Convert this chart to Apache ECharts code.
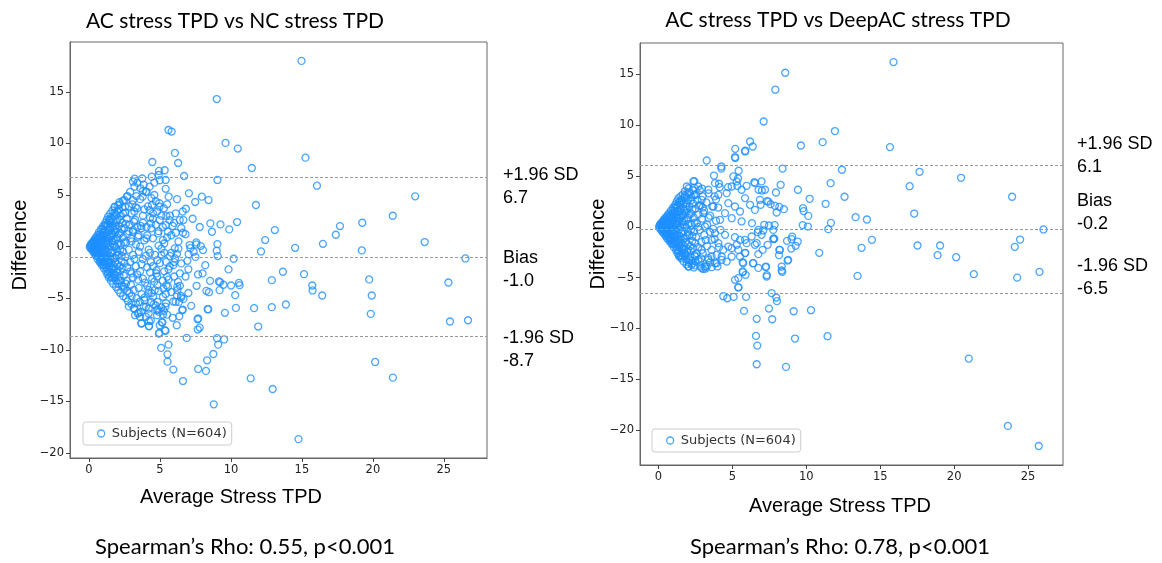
<!DOCTYPE html>
<html>
<head>
<meta charset="UTF-8">
<title>Bland-Altman stress TPD</title>
<script type="text/javascript" src="https://cdn.jsdelivr.net/npm/echarts@6/dist/echarts.min.js"></script>
<style>
html, body { margin: 0; padding: 0; background: #fff; }
</style>
</head>
<body>
	<div id="box" style="width: 1162px; height: 563px;"></div>

	<script type="text/javascript">
		// titles and captions
		var plotTitles = ['AC stress TPD vs NC stress TPD', 'AC stress TPD vs DeepAC stress TPD'];
		var rhoTexts = ['Spearman\u2019s Rho: 0.55, p<0.001', 'Spearman\u2019s Rho: 0.78, p<0.001'];
		var seriesName = 'Subjects (N=604)';

		// tick labels
		var xTicks = [0, 5, 10, 15, 20, 25];
		var yTicks = [-20, -15, -10, -5, 0, 5, 10, 15];

		// bias and limits of agreement: +1.96 SD, Bias, -1.96 SD
		var limitNames = ['+1.96 SD', 'Bias', '-1.96 SD'];
		var ncLimits = [6.7, -1.0, -8.7];
		var deepLimits = [6.1, -0.2, -6.5];

		// AC vs NC: [average, difference], dense wedge near zero
		var ncCore = [
			[0.05,0.0],[0.1,0.1],[0.1,-0.15],[0.15,0.25],[0.2,-0.3],[0.2,0.05],[0.25,0.4],[0.3,-0.5],[0.3,0.2],[0.3,-0.1],
			[0.35,0.6],[0.4,-0.7],[0.4,0.3],[0.45,-0.3],[0.45,0.85],[0.5,-0.9],[0.5,0.1],[0.55,0.5],[0.55,-0.55],[0.6,1.1],[0.6,-1.2],[0.6,-0.1],
			[0.65,0.7],[0.7,-0.8],[0.7,1.4],[0.7,0.2],[0.75,-1.5],[0.75,-0.3],[0.8,1.0],[0.8,-1.1],[0.85,1.7],[0.85,0.4],[0.9,-1.8],[0.9,-0.5],[0.9,0.0],
			[0.95,1.3],[1.0,-1.4],[1.0,2.0],[1.0,0.6],[1.05,-2.1],[1.05,-0.7],[1.1,1.6],[1.1,-0.2],[1.15,2.3],[1.15,-1.0],[1.2,0.9],[1.2,-2.4],[1.2,-1.7],[1.2,0.2],
			[1.25,2.6],[1.25,1.9],[1.3,-2.7],[1.3,-0.5],[1.3,1.2],[1.35,-1.3],[1.35,2.9],[1.4,0.5],[1.4,-2.0],[1.4,-3.0],[1.45,1.6],[1.45,-0.9],[1.5,3.2],[1.5,2.3],[1.5,-2.5],[1.5,0.0],
			[1.55,-3.3],[1.55,1.0],[1.6,-1.6],[1.6,2.7],[1.65,3.5],[1.65,-0.4],[1.7,-3.6],[1.7,1.9],[1.7,-2.2],[1.75,0.6],[1.75,3.0],[1.8,-1.1],[1.8,-3.0],[1.8,3.8],
			[1.85,1.4],[1.9,-3.9],[1.9,2.4],[1.9,-0.1],[1.95,-2.5],[2.0,3.4],[2.0,0.9],[2.0,-1.7],[2.05,4.0],[2.05,-4.2],[2.1,-0.8],[2.1,2.0],[2.1,-3.3],
			[2.15,4.3],[2.2,1.3],[2.2,-2.4],[2.2,-4.5],[2.25,3.0],[2.25,0.2],[2.3,-1.4],[2.3,-3.8],[2.35,3.8],[2.35,2.3],[2.4,-0.5],[2.4,-4.8],[2.4,0.9],
			[2.45,-2.8],[2.5,4.5],[2.5,1.8],[2.5,-4.1],[2.55,-1.0],[2.55,3.3],[2.6,-5.0],[2.6,0.4],[2.65,-3.3],[2.65,2.7],[2.7,4.9],[2.7,-2.0],[2.7,1.2],
			[2.75,-5.3],[2.8,3.9],[2.8,-0.3],[2.85,-4.5],[2.85,2.1],[2.9,-1.5],[2.9,5.3],[2.95,0.8],[2.95,-3.7],[3.0,3.2],[3.0,-5.6],[3.0,-2.6],
			[3.1,4.5],[3.1,1.6],[3.1,-0.8],[3.15,-4.2],[3.2,5.8],[3.2,-6.0],[3.25,2.6],[3.3,-1.9],[3.3,0.2],[3.35,-5.0],[3.4,3.7],[3.4,6.2],[3.45,-3.2],[3.5,1.1],[3.5,-6.4],[3.5,-0.5],
			[3.6,4.6],[3.6,-2.4],[3.65,2.0],[3.7,-4.6],[3.75,6.6],[3.8,-1.2],[3.8,3.0],[3.85,-5.8],[3.9,0.6],[3.95,-3.5],[4.0,5.3],[4.0,-6.8],[4.05,1.9],[4.1,-2.0],[4.15,3.9],[4.2,-0.3],[4.2,-4.2],
			[4.3,2.8],[4.35,-1.5],[4.4,4.7],[4.45,-3.1],[4.5,0.8],[4.55,-5.6],[4.6,6.2],[4.65,-0.8],[4.7,2.1],[4.75,-2.3],[4.8,3.4],[4.85,-6.1],[4.9,0.1],[4.95,4.2],
			[5.1,-0.2],[5.2,1.9],[5.3,-2.4],[5.4,5.6],[5.5,0.9],[5.6,-3.2],[5.7,3.0],[5.8,-0.6],[5.9,2.0],[6.0,-1.5],[6.2,4.6],[6.3,0.5],[6.4,-2.6],[6.6,3.4],[6.8,1.2],[7.0,-2.2],[7.3,2.7],[7.5,-1.0],[7.8,1.9],[8.0,-2.6],
			[0.2,0.15],[0.25,-0.2],[0.35,0.0],[0.4,0.5],[0.45,-0.5],[0.5,0.35],[0.55,-0.25],[0.65,-0.6],[0.65,0.45],[0.75,0.9],[0.8,-0.2],[0.85,-1.3],[0.95,0.3],[1.0,-0.3],[1.05,1.1],
			[1.1,-1.5],[1.15,0.4],[1.25,-0.8],[1.3,2.2],[1.35,0.8],[1.4,-1.6],[1.45,2.6],[1.5,-1.2],[1.6,1.3],[1.6,-2.7],[1.7,0.2],[1.75,-1.9],[1.85,-2.8],[1.9,3.1],[2.0,-0.5],
			[0.3,0.45],[0.35,-0.4],[0.4,-0.2],[0.45,0.2],[0.5,-0.6],[0.5,0.7],[0.55,0.9],[0.6,0.3],[0.6,-0.8],[0.65,-1.0],[0.7,0.9],[0.7,-0.4],[0.75,1.2],[0.75,0.1],[0.8,-1.4],
			[0.8,0.5],[0.85,-0.8],[0.85,1.1],[0.9,0.8],[0.9,-1.1],[0.95,-1.7],[0.95,1.7],[1.0,1.0],[1.0,-0.9],[1.05,0.2],[1.05,-1.8],[1.1,2.0],[1.1,-1.2],[1.15,-0.5],[1.15,1.5],
			[1.2,-2.0],[1.2,2.1],[1.25,0.6],[1.25,-1.4],[1.3,-2.2],[1.3,0.3],[1.35,1.6],[1.35,-2.5],[1.4,2.5],[1.4,-0.3],[1.45,-1.9],[1.45,0.9],[1.5,1.8],[1.5,-2.9],[1.55,2.8],
			[1.55,-0.6],[1.6,0.5],[1.6,-2.1],[1.65,1.1],[1.65,-3.0],[1.7,2.4],[1.7,-1.2],[1.75,-2.6],[1.75,1.6],[1.8,0.0],[1.8,3.3],[1.85,-1.5],[1.85,2.0],[1.9,0.7],[1.9,-3.3],
			[1.95,1.7],[1.95,-0.9],[2.0,2.6],[2.0,-2.2],[2.05,-3.6],[2.05,0.3],[2.1,3.6],[2.1,1.2],[2.15,-1.9],[2.15,-2.9],[2.2,2.6],[2.2,-0.3],[2.25,-3.3],[2.3,1.7],[2.3,-0.9],
			[2.35,-2.1],[2.4,3.2],[2.45,0.4],[2.45,-3.9],[2.5,-1.6]
		];

		// AC vs NC: spread and outliers
		var ncSpread = [
			[14.97,18.0],[9.0,14.3],[5.6,11.3],[5.82,11.15],[9.62,10.05],[10.48,9.5],[6.05,9.08],[15.25,8.62],[4.46,8.2],[6.28,8.1],[11.47,7.62],[6.7,6.84],[9.05,6.46],[16.06,5.9],
			[22.98,4.87],[11.76,4.03],[21.4,2.99],[19.25,2.31],[17.68,1.99],[13.09,1.6],[17.39,1.15],[12.41,0.63],[23.65,0.44],[16.48,0.27],[14.52,-0.12],[19.22,-0.37],[12.12,-0.47],
			[26.52,-1.15],[10.19,-1.18],[9.07,-0.92],[9.0,-0.4],[9.05,0.24],[10.43,2.38],[9.88,1.67],[9.26,2.15],[8.55,2.25],[8.66,1.44],[8.42,4.51],[7.95,4.84],[7.48,4.32],[7.04,5.16],[6.83,3.67],
			[4.93,7.33],[5.33,7.4],[4.91,6.94],[5.4,6.46],[4.98,6.43],[4.42,6.78],[3.22,6.58],[3.1,6.29],[5.61,4.84],[4.6,5.0],[4.27,5.81],[3.85,6.0],[3.62,5.65],[3.34,4.9],[3.78,4.84],[4.06,5.32],
			[4.27,3.54],[4.51,3.22],[4.96,3.86],[5.28,3.71],[4.44,4.03],[2.68,4.84],[2.39,4.45],[2.16,4.1],[1.81,3.86],[3.06,4.1],[3.29,3.81],[2.54,3.86],[5.45,2.96],[6.11,3.22],[6.39,2.57],
			[6.65,2.57],[5.68,2.57],[4.98,2.57],[5.4,2.09],[4.35,2.25],[3.8,2.31],[3.17,2.41],[3.69,1.77],[4.39,1.77],[4.86,1.28],[5.56,1.44],[6.11,1.34],[6.62,1.34],[5.21,0.63],[4.04,0.8],
			[3.45,0.95],[3.1,1.44],[7.56,0.41],[7.09,0.15],[6.04,-0.17],[7.14,-0.15],[7.02,-0.73],[7.37,-0.5],[7.87,0.05],[7.56,0.21],[8.03,-0.34],
			[14.76,-18.66],[8.79,-15.29],[12.94,-13.8],[6.62,-13.03],[11.39,-12.77],[21.41,-12.7],[5.94,-11.92],[7.69,-11.86],[8.24,-12.05],[5.53,-11.15],[5.53,-10.44],[8.32,-11.02],
			[8.76,-10.41],[20.16,-11.18],[5.08,-9.82],[5.6,-9.5],[9.1,-9.5],[9.02,-8.88],[9.52,-9.0],[6.88,-8.85],[4.95,-8.37],[5.39,-8.17],[7.8,-7.85],[7.66,-8.04],[11.92,-7.75],
			[6.18,-7.62],[4.98,-7.62],[5.13,-7.33],[4.22,-7.69],[4.22,-7.23],[3.7,-7.43],[7.69,-6.97],[25.43,-7.26],[26.7,-7.14],[19.85,-6.52],[9.57,-6.42],[5.21,-6.59],[6.36,-6.75],
			[6.57,-6.17],[8.4,-6.07],[10.35,-5.94],[11.63,-5.97],[12.88,-5.87],[13.87,-5.61],[7.2,-5.74],[5.39,-5.81],[5.42,-5.49],[5.94,-5.32],[6.65,-5.07],[6.49,-4.77],[6.34,-5.36],
			[10.3,-4.71],[19.92,-4.74],[16.43,-4.74],[15.75,-4.25],[15.73,-3.77],[9.2,-4.22],[9.23,-3.45],[8.27,-4.29],[8.45,-4.42],[19.74,-3.18],[25.32,-3.48],[12.88,-3.25],[13.66,-2.44],
			[15.15,-2.67],[8.53,-3.32],[9.47,-3.7],[10.01,-3.77],[10.56,-3.51],[10.61,-3.74],[9.83,-2.21],[8.19,-1.8],
			[9.15,-3.38],[7.68,-2.7],[7.58,-3.8],[8.36,-6.07],[7.65,-7.04],[6.27,-3.42],[6.22,-3.9],[6.22,-4.22],[6.19,-4.71],[6.5,-4.94],[6.1,-5.36],[5.5,-2.93],[5.45,-3.74],
			[6.06,-1.15],[6.5,-1.63],[6.93,-1.38],[4.82,-1.31],[5.1,-0.83],[5.42,-1.48],[5.68,-1.92],[5.94,-1.8],[4.74,-2.6],[4.82,-3.74],[4.63,-4.22],[5.24,-4.06],[5.56,-3.9],
			[5.21,-4.87],[4.82,-5.36],[4.51,-4.87],[4.93,-6.33],[4.75,-6.17],[4.2,-6.49],[4.35,-7.17],[4.79,-6.65],[5.28,-6.23],[5.35,-8.11],[4.93,-8.43],[5.17,-7.36],[3.69,-7.46],
			[4.23,-7.72],[3.43,-6.49],[3.15,-6.0],[3.24,-6.65],[3.66,-6.33],[4.01,-5.84],[4.39,-5.36],[3.57,-5.36],[3.92,-4.93],[4.2,-4.54],
			[2.6,-3.6],[2.7,-4.3],[2.8,-5.8],[2.9,-2.4],[3.0,-4.8],[3.1,-3.0],[3.2,-1.2],[3.3,-5.5],[3.4,-2.7],[3.5,-4.0],[3.6,-6.8],[3.7,-1.7],[3.8,-3.1],[3.9,-5.2],[4.0,-0.9],
			[4.1,-3.8],[4.2,-6.0],[4.3,-2.5],[4.4,-4.5],[4.5,-1.9],[4.6,-3.4],[4.7,-5.7],[4.8,-2.9],[4.9,-4.3],[5.0,-1.6],[5.1,-5.9],[5.2,-3.3],[5.3,-0.6],[5.4,-4.6],[5.5,-6.6],
			[5.6,-2.2],[5.7,-0.9],[5.8,-4.4],[5.9,-6.9],[6.0,-2.9],[6.2,-0.7],[6.4,-3.8],[6.6,-6.1],[6.8,-2.9],[7.0,-4.5],
			[2.6,2.2],[2.8,1.5],[3.0,0.5],[3.2,3.4],[3.4,1.9],[3.6,0.0],[3.8,5.4],[3.9,3.6],[4.1,1.1],[4.3,-0.6],[4.5,2.7],[4.7,4.4],[4.9,1.5],[5.1,3.0],[5.3,0.3],[5.5,4.1],[5.8,1.1],
			[6.0,2.3],[6.3,-0.2],[6.5,1.8]
		];

		// AC vs DeepAC: [average, difference], dense wedge near zero
		var deepCore = [
			[0.05,0.0],[0.1,0.15],[0.1,-0.15],[0.15,0.3],[0.2,-0.35],[0.2,0.05],[0.25,0.45],[0.3,-0.55],[0.3,0.2],[0.3,-0.1],[0.35,0.65],[0.4,-0.7],[0.4,0.3],[0.45,-0.35],[0.45,0.85],
			[0.5,-0.9],[0.5,0.05],[0.55,0.5],[0.55,-0.55],[0.6,1.1],[0.6,-1.15],[0.6,-0.1],[0.65,0.7],[0.7,-0.8],[0.7,1.3],[0.7,0.2],[0.75,-1.4],[0.75,-0.35],[0.8,0.95],[0.8,-1.05],
			[0.85,1.6],[0.85,0.4],[0.9,-1.7],[0.9,-0.5],[0.9,0.0],[0.95,1.25],[1.0,-1.35],[1.0,1.9],[1.0,0.6],[1.05,-2.0],[1.05,-0.7],[1.1,1.55],[1.1,-0.2],[1.15,2.2],[1.15,-1.0],
			[1.2,0.9],[1.2,-2.3],[1.2,-1.6],[1.2,0.2],[1.25,2.5],[1.25,1.8],[1.3,-2.6],[1.3,-0.5],[1.3,1.2],[1.35,-1.3],[1.35,2.8],[1.4,0.5],[1.4,-2.0],[1.4,-2.9],[1.45,1.5],[1.45,-0.9],
			[1.5,3.0],[1.5,2.2],[1.5,-2.4],[1.5,0.0],[1.55,-3.1],[1.55,1.0],[1.6,-1.6],[1.6,2.6],[1.65,3.2],[1.65,-0.4],[1.7,-3.4],[1.7,1.8],[1.7,-2.2],[1.75,0.6],[1.75,2.9],[1.8,-1.1],
			[1.8,-2.9],[1.8,3.5],[1.85,1.4],[1.9,-3.7],[1.9,2.3],[1.9,-0.1],[1.95,-2.5],[2.0,3.3],[2.0,0.9],[2.0,-1.7],[2.05,3.8],[2.05,-3.9],[2.1,-0.8],[2.1,2.0],[2.1,-3.2],[2.2,1.3],
			[2.2,-2.4],[2.25,2.9],[2.25,0.2],[2.3,-1.4],[2.3,-3.6],[2.35,3.6],[2.35,2.3],[2.4,-0.5],[2.4,-4.0],[2.4,0.9],[2.45,-2.8],[2.5,1.8],[2.5,-3.4],[2.55,-1.0],[2.55,3.2],[2.6,0.4],
			[2.65,2.6],[2.7,-2.0],[2.7,1.2],[2.8,3.6],[2.8,-0.3],[2.85,-3.9],[2.85,2.1],[2.9,-1.5],[2.95,0.8],[3.0,3.0],[3.0,-2.6],[3.1,1.6],[3.1,-0.8],[3.2,-4.1],[3.25,2.4],[3.3,-1.9],
			[3.3,0.2],[3.4,3.3],[3.5,1.1],[3.5,-0.5],[3.6,-2.9],[3.65,2.0],[3.8,-1.2],[3.8,3.0],[3.9,0.6],[4.0,-3.9],[4.05,1.9],[4.1,-2.0],[4.15,3.9],[4.2,-0.3],
			[0.2,0.15],[0.25,-0.2],[0.35,0.0],[0.4,0.5],[0.45,-0.5],[0.5,0.35],[0.55,-0.25],[0.65,-0.6],[0.65,0.45],[0.75,0.9],[0.8,-0.2],[0.85,-1.2],[0.95,0.3],[1.0,-0.3],[1.05,1.1],
			[1.1,-1.5],[1.15,0.4],[1.25,-0.8],[1.3,2.1],[1.35,0.8],[1.4,-1.6],[1.45,2.5],[1.5,-1.2],[1.6,1.3],[1.6,-2.6],[1.7,0.2],[1.75,-1.9],[1.85,-2.7],[1.9,2.9],[2.0,-0.5],
			[0.3,0.45],[0.35,-0.4],[0.4,-0.2],[0.45,0.2],[0.5,-0.6],[0.5,0.7],[0.55,0.9],[0.6,0.3],[0.6,-0.8],[0.65,-1.0],[0.7,0.9],[0.7,-0.4],[0.75,1.15],[0.75,0.1],[0.8,-1.3],
			[0.8,0.5],[0.85,-0.8],[0.85,1.1],[0.9,0.8],[0.9,-1.1],[0.95,-1.6],[0.95,1.6],[1.0,1.0],[1.0,-0.9],[1.05,0.2],[1.05,-1.7],[1.1,1.9],[1.1,-1.2],[1.15,-0.5],[1.15,1.45],
			[1.2,-1.95],[1.2,2.0],[1.25,0.6],[1.25,-1.4],[1.3,-2.2],[1.3,0.3],[1.35,1.6],[1.35,-2.4],[1.4,2.4],[1.4,-0.3],[1.45,-1.9],[1.45,0.9],[1.5,1.8],[1.5,-2.8],[1.55,2.7],
			[1.55,-0.6],[1.6,0.5],[1.6,-2.1],[1.65,1.1],[1.65,-2.9],[1.7,2.3],[1.7,-1.2],[1.75,-2.6],[1.75,1.6],[1.8,0.0],[1.8,3.1],[1.85,-1.5],[1.85,2.0],[1.9,0.7],[1.9,-3.2],
			[1.95,1.7],[1.95,-0.9],[2.0,2.6],[2.0,-2.2],[2.05,-3.5],[2.05,0.3],[2.1,3.4],[2.1,1.2],[2.15,-1.9],[2.15,-2.9],[2.2,2.6],[2.2,-0.3],[2.25,-3.3],[2.3,1.7],[2.3,-0.9],
			[2.35,-2.1],[2.4,3.1],[2.45,0.4],[2.45,-3.8],[2.5,-1.6],[2.6,-2.6],[2.7,0.0],[2.75,2.1],[2.9,-3.1],[3.0,1.9],[3.2,-1.3],[3.4,0.9],[3.5,-3.5],[3.7,-0.2],[3.9,2.7]
		];

		// AC vs DeepAC: spread and outliers
		var deepSpread = [
			[15.9,16.22],[15.66,7.85],[12.41,5.62],[17.66,5.42],[20.47,4.83],[16.99,4.0],[12.59,2.96],[23.92,2.96],[17.3,1.31],[13.34,0.95],[14.1,0.72],[26.04,-0.26],[14.44,-1.28],
			[24.46,-1.25],[13.74,-2.07],[17.52,-1.84],[19.05,-1.84],[24.1,-1.97],[18.88,-2.79],[20.14,-2.99],[13.47,-4.83],[21.33,-4.66],[24.26,-5.0],[25.77,-4.43],[20.99,-12.97],
			[23.63,-19.6],[25.72,-21.58],
			[8.58,15.17],[7.91,13.5],[7.12,10.37],[11.94,9.43],[11.11,8.34],[9.64,8.01],[6.2,8.4],[6.38,7.91],[5.88,7.49],[5.2,7.68],[5.2,6.77],[3.27,6.53],[4.26,5.94],[4.26,5.74],
			[8.4,5.74],[5.43,5.52],[3.76,5.05],[5.07,4.96],[5.39,4.76],[11.65,4.3],[8.27,4.14],[6.49,4.4],[2.43,4.5],[1.92,3.97],[2.41,3.87],[2.95,3.77],[3.83,4.3],[4.1,4.24],[4.71,3.91],
			[5.34,4.04],[5.97,4.04],[9.44,3.65],[7.95,3.38],[6.78,3.65],[7.0,3.58],[10.23,2.76],[11.31,2.27],[7.34,2.53],[7.59,2.23],[7.88,2.07],[8.18,1.97],[8.49,1.74],[9.78,1.84],
			[9.82,1.55],[10.14,1.08],[8.0,1.41],[6.92,2.17],[11.67,0.39],[11.49,-0.23],[9.76,0.17],[10.11,0.03],[9.05,-0.96],[8.7,-1.38],[9.42,-1.45],[7.84,-1.18],[7.16,0.2],[7.48,0.13],
			[7.86,0.17],[6.33,0.36],[6.72,-0.52],[7.09,-0.36],
			[6.65,-13.53],[8.63,-13.79],[6.69,-11.69],[6.6,-10.74],[9.24,-11.0],[11.44,-10.77],[6.65,-9.06],[7.7,-9.1],[5.79,-8.28],[7.48,-8.05],[9.15,-8.31],[10.32,-8.21],[4.39,-6.83],
			[4.66,-7.03],[5.09,-6.9],[5.93,-6.9],[7.66,-6.53],[7.97,-6.96],[8.02,-7.32],[5.41,-5.98],[5.18,-5.22],[5.9,-4.73],[5.72,-4.46],[7.34,-4.76],[5.7,-3.48],[6.4,-3.58],[6.76,-4.04],
			[7.28,-3.91],[8.34,-3.91],[8.38,-4.43],[8.74,-3.32],[10.88,-2.56],[8.99,-2.14],[9.28,-1.87],[8.18,-2.27],[8.16,-2.79],[7.8,-1.15],[6.76,-2.69],[7.05,-2.27],[7.39,-1.77],
			[5.88,-2.56],[5.52,-2.93],[1.47,-2.93],[2.03,-3.91],[3.04,-4.17],[3.61,-3.97],[4.62,-3.42],
			[5.18,6.87],[5.86,7.42],[7.43,2.49],[7.77,-1.21],[8.22,-2.27],[8.34,-4.3],[8.78,-3.25],[9.01,-1.21],[6.42,-3.58],[7.26,-3.97],[5.86,-2.59],[5.74,-3.58],[7.32,-4.9],[5.41,-5.05],
			[5.7,-4.4],[5.41,-5.94],[6.76,-0.3],[7.77,-0.3],
			[4.06,3.15],[4.62,3.32],[4.96,3.97],[5.3,4.47],[5.63,3.65],[5.86,2.83],[6.2,2.17],[6.53,1.67],[6.87,2.66],[7.21,3.65],[6.53,4.3],[6.98,4.47],[4.73,2.33],[5.18,2.0],[5.52,1.51],
			[4.51,1.35],[4.17,0.69],[4.96,0.85],[5.63,0.53],[3.83,-0.62],[4.51,-0.79],[5.18,-1.02],[5.86,-1.28],[6.53,-1.77],[4.06,-1.61],[4.73,-1.94],[5.41,-2.27],[3.6,-2.27],[4.28,-2.92],
			[4.96,-2.92],[3.38,-3.25],[3.94,-3.58],[3.15,-3.9],[2.7,-3.25],[2.25,-3.75],[2.93,-2.27],[3.6,-1.28],[3.15,0.03],[3.72,2.0],[2.93,2.66],[3.38,3.65],[2.7,3.97],[2.37,4.47],
			[2.48,3.15],[3.04,1.35],
			[2.93,-4.07],[3.27,-3.91],[3.83,-3.58],[4.28,-3.25],[5.3,-1.77],[5.97,-1.61],[6.65,-1.61],[6.98,-0.79],[2.82,-3.42],[2.48,-2.92],[3.38,-3.09],[3.94,-2.76],[4.39,-2.27],
			[4.96,-2.1],[5.52,-1.28],[6.31,-0.95]
		];

		var blue = '#1e90ff';
		var myChart = echarts.init(document.getElementById('box'));

		function minusSign(v) {
			return String(v).replace('-', '\u2212');
		}

		function makeAxis(idx, min, max, ticks) {
			return {
				gridIndex : idx,
				type : 'value',
				min : min,
				max : max,
				splitLine : { show : false },
				axisLine : { show : true, onZero : false, lineStyle : { color : '#666', width : 1 } },
				axisTick : { show : true, length : 4, customValues : ticks, lineStyle : { color : '#444' } },
				axisLabel : {
					customValues : ticks,
					color : '#222',
					fontFamily : 'DejaVu Sans',
					fontSize : 11.5,
					margin : 6,
					formatter : minusSign
				}
			};
		}

		function makeSeries(idx, points, limits) {
			return {
				name : seriesName,
				type : 'scatter',
				xAxisIndex : idx,
				yAxisIndex : idx,
				symbol : 'circle',
				symbolSize : 7,
				itemStyle : { color : 'rgba(0,0,0,0)', borderColor : blue, borderWidth : 1.3 },
				data : points,
				markLine : {
					silent : true,
					symbol : 'none',
					label : { show : false },
					lineStyle : { type : [3, 2], color : '#999', width : 1 },
					data : limits.map(function(v) { return { yAxis : v }; })
				}
			};
		}

		function legendFor(left, top) {
			return {
				left : left,
				top : top,
				data : [ seriesName ],
				icon : 'circle',
				itemWidth : 7,
				itemHeight : 7,
				itemGap : 4,
				padding : [ 5, 5, 5, 14 ],
				backgroundColor : '#fff',
				borderColor : '#ccc',
				borderWidth : 1,
				borderRadius : 3,
				itemStyle : { color : 'rgba(0,0,0,0)', borderColor : blue, borderWidth : 1.3 },
				textStyle : { fontFamily : 'DejaVu Sans', fontSize : 13, color : '#333', padding : [0, 0, 0, 2] }
			};
		}

		function txt(x, y, s, font, opts) {
			var o = {
				type : 'text',
				x : x,
				y : y,
				style : { text : s, font : font, fill : '#000', textAlign : 'center', textVerticalAlign : 'middle' }
			};
			if (opts) {
				for (var k in opts) o[k] = opts[k];
			}
			return o;
		}

		var sideFont = '18px "Liberation Sans", Arial, sans-serif';
		var graphics = [
			txt(235, 21, plotTitles[0], '21px Lato, sans-serif'),
			txt(838, 20, plotTitles[1], '21px Lato, sans-serif'),
			txt(245, 547, rhoTexts[0], '22px Lato, sans-serif'),
			txt(840, 547, rhoTexts[1], '22px Lato, sans-serif'),
			txt(231, 497, 'Average Stress TPD', '20px "Liberation Sans", Arial, sans-serif'),
			txt(840, 506, 'Average Stress TPD', '20px "Liberation Sans", Arial, sans-serif'),
			txt(20, 245, 'Difference', '20px "Liberation Sans", Arial, sans-serif', { rotation : Math.PI / 2 }),
			txt(598, 244, 'Difference', '20px "Liberation Sans", Arial, sans-serif', { rotation : Math.PI / 2 })
		];
		// limit labels beside each plot
		var ncLabelY = [175, 258, 338];
		var deepLabelY = [144, 201, 266];
		for (var i = 0; i < 3; i++) {
			graphics.push(txt(503, ncLabelY[i], limitNames[i], sideFont, {}));
			graphics.push(txt(503, ncLabelY[i] + 23, ncLimits[i].toFixed(1), sideFont, {}));
			graphics.push(txt(1077, deepLabelY[i], limitNames[i], sideFont, {}));
			graphics.push(txt(1077, deepLabelY[i] + 23, deepLimits[i].toFixed(1), sideFont, {}));
		}
		graphics.forEach(function(g, j) {
			if (j >= 8) g.style.textAlign = 'left';
		});

		myChart.setOption({
			animation : false,
			grid : [
				{ left : 70, top : 42, width : 417, height : 416, show : true, borderColor : '#666', borderWidth : 1 },
				{ left : 640, top : 43, width : 423, height : 422, show : true, borderColor : '#666', borderWidth : 1 }
			],
			xAxis : [ makeAxis(0, -1.34, 28.04, xTicks), makeAxis(1, -1.24, 27.36, xTicks) ],
			yAxis : [ makeAxis(0, -20.49, 19.83, yTicks), makeAxis(1, -23.45, 18.1, yTicks) ],
			legend : [ legendFor(83, 422), legendFor(652, 429) ],
			series : [
				makeSeries(0, ncCore.concat(ncSpread), ncLimits),
				makeSeries(1, deepCore.concat(deepSpread), deepLimits)
			],
			graphic : graphics
		});
	</script>

</body>
</html>
